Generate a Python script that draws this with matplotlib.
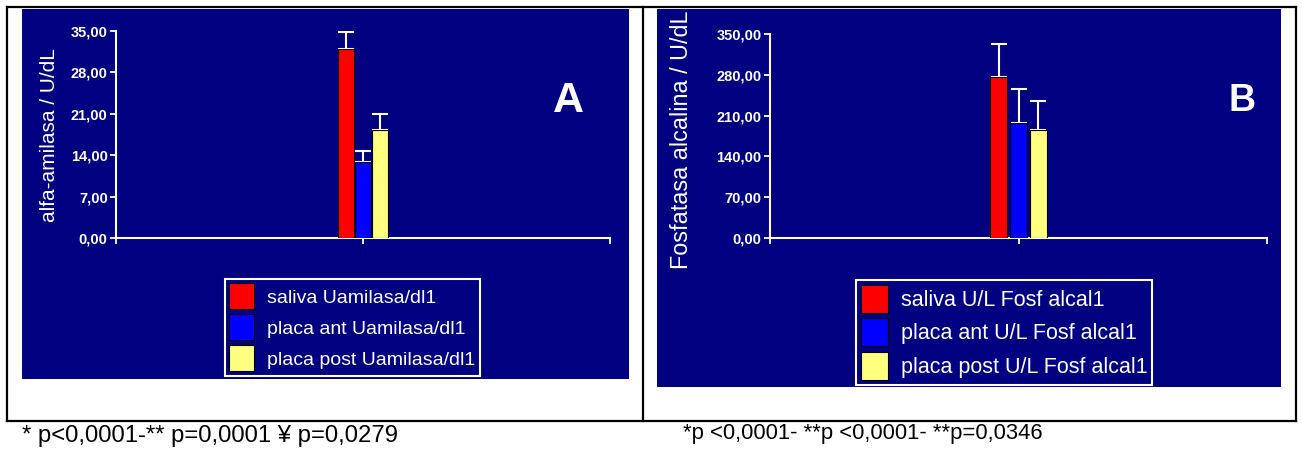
import matplotlib
matplotlib.use("Agg")
import matplotlib.pyplot as plt
from matplotlib.patches import Rectangle
from matplotlib.lines import Line2D
from matplotlib import font_manager

W, H = 1302, 450
NAVY = "#000080"

# panel A: alfa-amilasa (mean, upper error)
amilasa_labels = ["saliva Uamilasa/dl1", "placa ant Uamilasa/dl1", "placa post Uamilasa/dl1"]
amilasa_mean = [31.9, 12.8, 18.3]
amilasa_err = [2.8, 1.9, 2.6]
amilasa_ticks = [0, 7, 14, 21, 28, 35]

# panel B: fosfatasa alcalina
fosf_labels = ["saliva U/L Fosf alcal1", "placa ant U/L Fosf alcal1", "placa post U/L Fosf alcal1"]
fosf_mean = [277, 197, 185]
fosf_err = [56, 59, 50]
fosf_ticks = [0, 70, 140, 210, 280, 350]

bar_colors = ["#ff0000", "#0000ff", "#ffff80"]

note_a = "* p<0,0001-** p=0,0001 \u00a5 p=0,0279"
note_b = "*p <0,0001- **p <0,0001- **p=0,0346"

names = {f.name for f in font_manager.fontManager.ttflist}
TEXT_FONT = "Liberation Sans" if "Liberation Sans" in names else "DejaVu Sans"
TICK_FONT = "Liberation Sans Narrow" if "Liberation Sans Narrow" in names else TEXT_FONT
plt.rcParams["font.family"] = [TEXT_FONT, "DejaVu Sans"]


def fbox(x0, y0, x1, y1):
    # pixel box (top-left origin) -> figure fraction [l, b, w, h]
    return [x0 / W, 1 - y1 / H, (x1 - x0) / W, (y1 - y0) / H]


def fx(x):
    return x / W


def fy(y):
    return 1 - y / H


fig = plt.figure(figsize=(W / 100, H / 100), dpi=100)

# table frame
lw = 1.6
for xs, ys in [((7, 1296), (7, 7)), ((7, 1296), (421, 421)),
               ((7, 7), (7, 421)), ((1296, 1296), (7, 421)), ((643, 643), (7, 421))]:
    fig.add_artist(Line2D([fx(xs[0]), fx(xs[1])], [fy(ys[0]), fy(ys[1])],
                          color="black", lw=lw, transform=fig.transFigure))

# navy panels
for x0, y0, x1, y1 in [(22, 9, 629, 379), (657, 9, 1281, 387)]:
    l, b, w, h = fbox(x0, y0, x1, y1)
    fig.add_artist(Rectangle((l, b), w, h, facecolor=NAVY, edgecolor="none",
                             transform=fig.transFigure, zorder=0))


def panel(box, means, errs, ticks, labels, width, step, letter, letter_xy, letter_size,
          ylabel, ylabel_xy, ylabel_size, leg_xy, leg_size, leg_kw):
    ax = fig.add_axes(fbox(*box))
    ax.patch.set_alpha(0)
    xs = [1 + (i - 1) * step for i in range(len(means))]
    cap = width / 2 * (box[2] - box[0]) / 2 * 0.72
    for x, m, e, c, lab in zip(xs, means, errs, bar_colors, labels):
        ax.bar(x, m, width=width, color=c, edgecolor="black", linewidth=0.8,
               label=lab, zorder=3)
        ax.errorbar(x, m, yerr=[[0], [e]], fmt="none", ecolor="white",
                    elinewidth=1.5, capsize=cap, capthick=1.5, zorder=2)
    ax.set_xlim(0, 2)
    ax.set_ylim(ticks[0], ticks[-1])
    ax.set_yticks(ticks)
    ax.set_yticklabels([f"{t:.2f}".replace(".", ",") for t in ticks],
                       fontfamily=TICK_FONT, fontweight="bold", fontsize=10.5, color="white")
    ax.set_xticks([0, 1, 2])
    ax.set_xticklabels([])
    for s in ["top", "right"]:
        ax.spines[s].set_visible(False)
    for s in ["left", "bottom"]:
        ax.spines[s].set_color("white")
        ax.spines[s].set_linewidth(1.5)
    ax.tick_params(axis="both", direction="out", length=4, width=1.3, color="white", pad=2)

    fig.text(fx(letter_xy[0]), fy(letter_xy[1]), letter, color="white", fontweight="bold",
             fontsize=letter_size, ha="center", va="center")
    fig.text(fx(ylabel_xy[0]), fy(ylabel_xy[1]), ylabel, color="white", fontsize=ylabel_size,
             rotation=90, ha="center", va="center")

    leg = ax.legend(loc="upper left", bbox_to_anchor=(fx(leg_xy[0]), fy(leg_xy[1])),
                    bbox_transform=fig.transFigure, borderaxespad=0, fontsize=leg_size,
                    frameon=True, fancybox=False, facecolor=NAVY, edgecolor="white",
                    framealpha=1, labelcolor="white", **leg_kw)
    leg.get_frame().set_linewidth(1.5)
    return ax


panel((116, 30.7, 610, 238), amilasa_mean, amilasa_err, amilasa_ticks, amilasa_labels,
      width=0.062, step=0.069, letter="A", letter_xy=(568, 101), letter_size=31,
      ylabel="alfa-amilasa / U/dL", ylabel_xy=(50, 135), ylabel_size=15,
      leg_xy=(225, 279), leg_size=14,
      leg_kw=dict(handlelength=1.29, handleheight=1.68, labelspacing=0.26,
                  borderpad=0.22, handletextpad=0.67))

panel((770, 34, 1267, 238), fosf_mean, fosf_err, fosf_ticks, fosf_labels,
      width=0.068, step=0.08, letter="B", letter_xy=(1242, 101), letter_size=27,
      ylabel="Fosfatasa alcalina / U/dL", ylabel_xy=(682, 140), ylabel_size=16.8,
      leg_xy=(856, 280), leg_size=15.5,
      leg_kw=dict(handlelength=1.26, handleheight=1.63, labelspacing=0.26,
                  borderpad=0.22, handletextpad=0.6))

fig.text(fx(22), fy(436), note_a, fontsize=17.2, ha="left", va="center", color="black")
fig.text(fx(683), fy(433), note_b, fontsize=15.8, ha="left", va="center", color="black")

fig.savefig("out.png", dpi=100)
